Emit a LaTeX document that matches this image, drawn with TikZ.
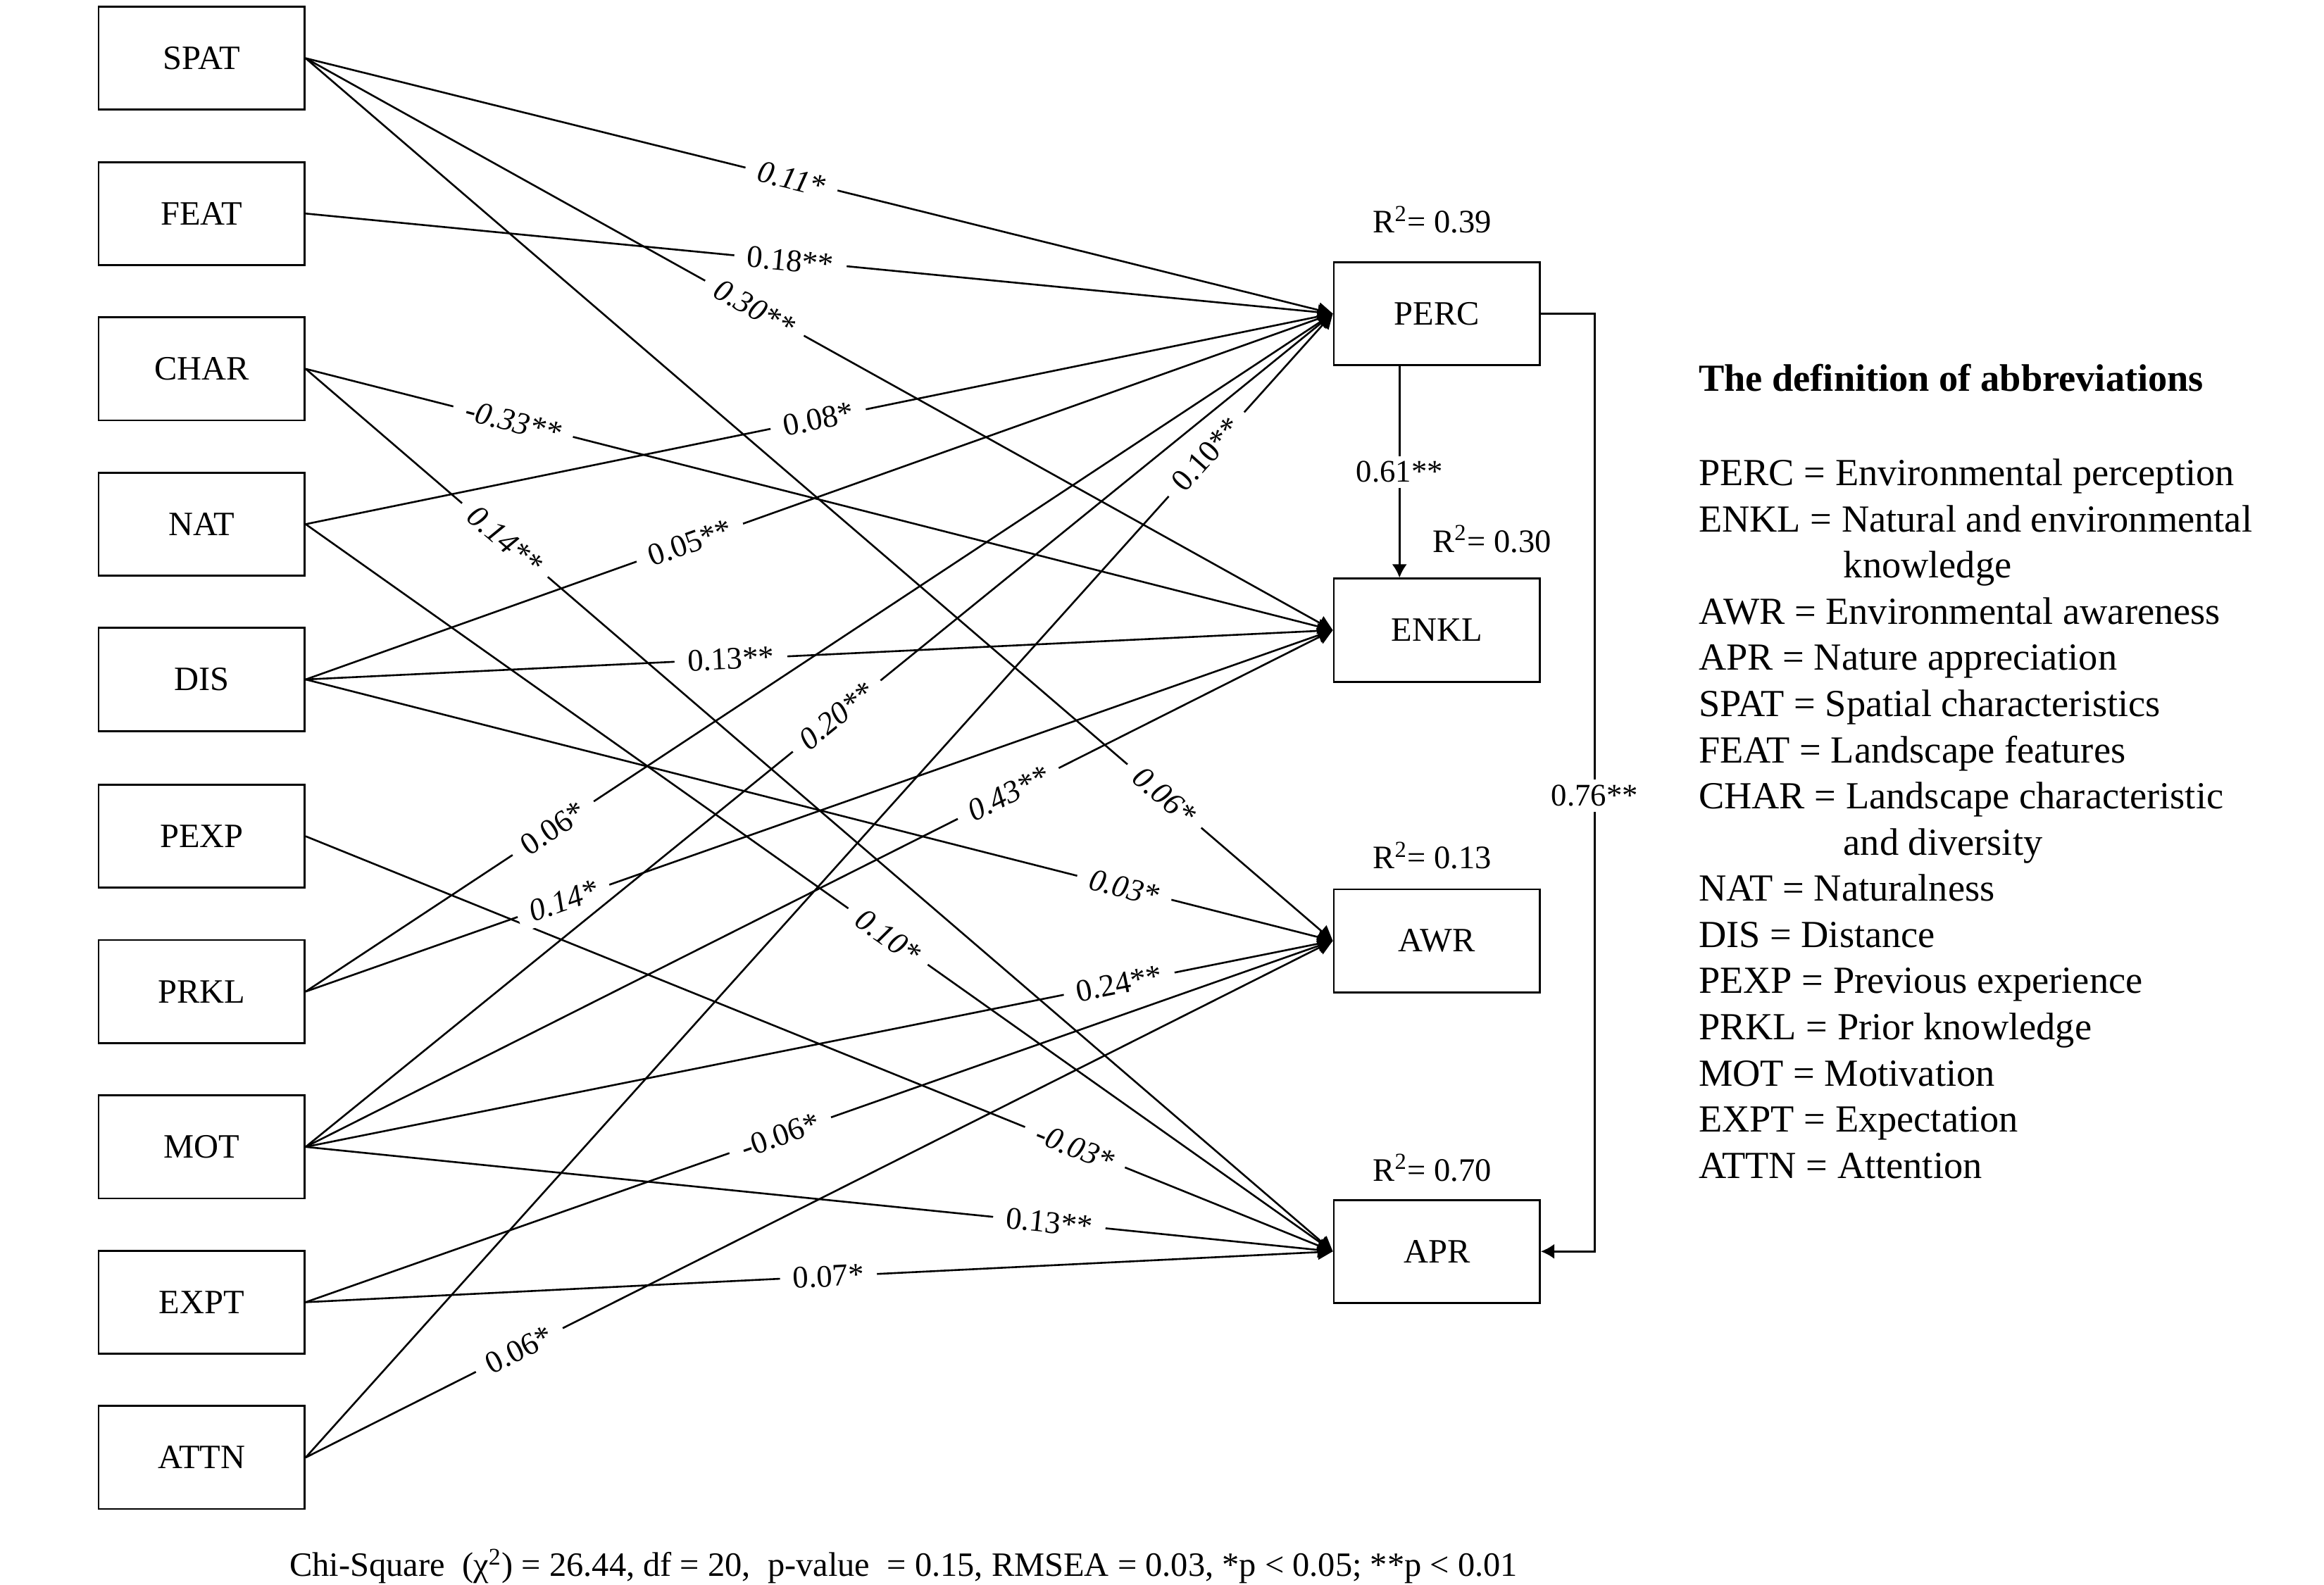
\documentclass[tikz,border=0pt]{standalone}
\usepackage{fontspec}
\setmainfont{Liberation Serif}
\usetikzlibrary{arrows.meta}
\tikzset{
	varbox/.style={draw, line width=0.75pt, minimum width=2.76cm, minimum height=1.38cm, inner sep=0pt, font=\fontsize{13}{15}\selectfont},
	effect/.style={line width=0.7pt, -{Triangle[length=0.2cm, width=0.2cm]}},
	coef/.style={fill=white, inner xsep=5pt, inner ysep=2pt, font=\fontsize{12}{14}\selectfont},
	coefit/.style={coef, font=\fontsize{12}{14}\selectfont\itshape},
	rsq/.style={inner sep=1pt, font=\fontsize{12.5}{15}\selectfont}
}
\begin{document}
\begin{tikzpicture}[x=0.02cm, y=-0.02cm]
		\useasboundingbox (0, 0) rectangle (1556, 1061);
		%%%%% EXOGENOUS %%%%%
		\node[varbox] (SPAT) at (135, 39) {SPAT};
		\node[varbox] (FEAT) at (135, 143) {FEAT};
		\node[varbox] (CHAR) at (135, 247) {CHAR};
		\node[varbox] (NAT) at (135, 351) {NAT};
		\node[varbox] (DIS) at (135, 455) {DIS};
		\node[varbox] (PEXP) at (135, 560) {PEXP};
		\node[varbox] (PRKL) at (135, 664) {PRKL};
		\node[varbox] (MOT) at (135, 768) {MOT};
		\node[varbox] (EXPT) at (135, 872) {EXPT};
		\node[varbox] (ATTN) at (135, 976) {ATTN};
		
		%%%%% ENDOGENOUS %%%%%
		\node[varbox] (PERC) at (962, 210) {PERC};
		\node[varbox] (ENKL) at (962, 422) {ENKL};
		\node[varbox] (AWR) at (962, 630) {AWR};
		\node[varbox] (APR) at (962, 838) {APR};
		
		\node[rsq] (r2perc) at (959, 147) {R\textsuperscript{2}= 0.39};
		\node[rsq] (r2enkl) at (999, 361) {R\textsuperscript{2}= 0.30};
		\node[rsq] (r2awr) at (959, 573) {R\textsuperscript{2}= 0.13};
		\node[rsq] (r2apr) at (959, 782) {R\textsuperscript{2}= 0.70};
		
		%%%%% PATHS %%%%%
		\draw[effect] (SPAT.east) -- node[coefit, sloped, pos=0.473] {0.11*} (PERC.west);
		\draw[effect] (SPAT.east) -- node[coefit, sloped, pos=0.437] {0.30**} (ENKL.west);
		\draw[effect] (SPAT.east) -- node[coefit, sloped, pos=0.836] {0.06*} (AWR.west);
		
		\draw[effect] (FEAT.east) -- node[coef, sloped, pos=0.472] {0.18**} (PERC.west);
		
		\draw[effect] (CHAR.east) -- node[coefit, sloped, pos=0.202] {-0.33**} (ENKL.west);
		\draw[effect] (CHAR.east) -- node[coefit, sloped, pos=0.194] {0.14**} (APR.west);
		
		\draw[effect] (NAT.east) -- node[coef, sloped, pos=0.499] {0.08*} (PERC.west);
		\draw[effect] (NAT.east) -- node[coefit, sloped, pos=0.567] {0.10*} (APR.west);
		
		\draw[effect] (DIS.east) -- node[coef, sloped, pos=0.374] {0.05**} (PERC.west);
		\draw[effect] (DIS.east) -- node[coef, sloped, pos=0.414] {0.13**} (ENKL.west);
		\draw[effect] (DIS.east) -- node[coefit, sloped, pos=0.797] {0.03*} (AWR.west);
		
		\draw[effect] (PEXP.east) -- node[coefit, sloped, pos=0.749] {-0.03*} (APR.west);
		
		\draw[effect] (PRKL.east) -- node[coef, sloped, pos=0.241] {0.06*} (PERC.west);
		\draw[effect] (PRKL.east) -- node[coefit, sloped, pos=0.251] {0.14*} (ENKL.west);
		
		\draw[effect] (MOT.east) -- node[coefit, sloped, pos=0.517] {0.20**} (PERC.west);
		\draw[effect] (MOT.east) -- node[coefit, sloped, pos=0.684] {0.43**} (ENKL.west);
		\draw[effect] (MOT.east) -- node[coef, sloped, pos=0.792] {0.24**} (AWR.west);
		\draw[effect] (MOT.east) -- node[coef, sloped, pos=0.724] {0.13**} (APR.west);
		
		\draw[effect] (EXPT.east) -- node[coef, sloped, pos=0.462] {-0.06*} (AWR.west);
		\draw[effect] (EXPT.east) -- node[coef, sloped, pos=0.509] {0.07*} (APR.west);
		
		\draw[effect] (ATTN.east) -- node[coef, sloped, pos=0.877] {0.10**} (PERC.west);
		\draw[effect] (ATTN.east) -- node[coef, sloped, pos=0.208] {0.06*} (AWR.west);
		
		\draw[line width=0.7pt, -{Latex[length=0.18cm, width=0.2cm]}] ([xshift=-0.5cm]PERC.south) -- node[coef] {0.61**} ([xshift=-0.5cm]ENKL.north);
		\draw[line width=0.7pt, -{Latex[length=0.18cm, width=0.2cm]}] (PERC.east) -- ++(36, 0) |- node[coef, pos=0.257] {0.76**} (APR.east);
		
		%%%%% LEGEND %%%%%
		\node[anchor=west, inner sep=0pt, font=\fontsize{14.6}{17.6}\selectfont\bfseries] (legtitle) at (1137, 253) {The definition of abbreviations};
		\node[anchor=north west, inner sep=0pt, align=left, font=\fontsize{14.6}{17.6}\selectfont] (legend) at (1137, 307) {PERC = Environmental perception\\
			ENKL = Natural and environmental\\
			\hspace*{1.94cm}knowledge\\
			AWR = Environmental awareness\\
			APR = Nature appreciation\\
			SPAT = Spatial characteristics\\
			FEAT = Landscape features\\
			CHAR = Landscape characteristic\\
			\hspace*{1.94cm}and diversity\\
			NAT = Naturalness\\
			DIS = Distance\\
			PEXP = Previous experience\\
			PRKL = Prior knowledge\\
			MOT = Motivation\\
			EXPT = Expectation\\
			ATTN = Attention};
		
		\node[inner sep=0pt, font=\fontsize{13}{15}\selectfont] (fit) at (605, 1049) {Chi-Square\ \ (χ\textsuperscript{2}) = 26.44, df = 20,\ \ p-value\ \ = 0.15, RMSEA = 0.03, *p < 0.05; **p < 0.01};
\end{tikzpicture}
\end{document}
